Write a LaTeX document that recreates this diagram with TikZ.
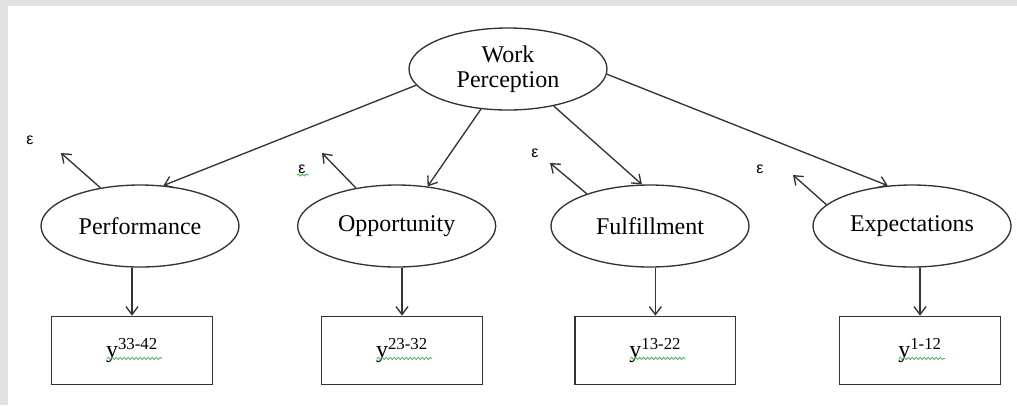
\documentclass[tikz,border=0pt]{standalone}
\usepackage{fontspec}
\setmainfont{Liberation Serif}
\newfontfamily\epsfont{Liberation Sans}
\usetikzlibrary{positioning,arrows.meta,calc,shapes.geometric,decorations.pathmorphing}
\definecolor{frame}{HTML}{E2E2E2}
\definecolor{ink}{HTML}{333333}
\definecolor{spell}{HTML}{4CAF50}
\tikzset{
  latent/.style={
    ellipse, draw=ink, line width=1pt, minimum width=148.5pt,
    minimum height=61.5pt, inner sep=2pt, align=center,
    font=\fontsize{18}{19}\selectfont},
  indic/.style={
    rectangle, draw=ink, line width=1.1pt, minimum width=120.5pt,
    minimum height=51pt, inner sep=2pt, font=\fontsize{18}{20}\selectfont},
  errlab/.style={font=\epsfont\fontsize{12}{12}\selectfont, inner sep=0pt},
  load/.style={draw=ink, line width=1pt, -{Straight Barb[length=6pt,width=9pt]}},
  squiggle/.style={
    draw=spell, line width=0.6pt, decorate,
    decoration={snake, amplitude=0.8pt, segment length=3pt}},
}

\begin{document}
\begin{tikzpicture}[x=0.75pt,y=-0.75pt]

  % page with grey frame on top and left
  \fill[frame] (0,0) rectangle (1017,405);
  \fill[white] (8,6) rectangle (1017,405);

  \node[latent] (work) at (508,69) {Work\\Perception};
  \node[latent] (perf) at (140,226) {Performance};
  \node[latent, right=43pt of perf] (opp) {Opportunity};
  \node[latent, right=40.5pt of opp] (fulf) {Fulfillment};
  \node[latent, right=47pt of fulf] (expc) {Expectations};

  \node[indic, below=36pt of perf, xshift=-6pt] (y1) {y\textsuperscript{33-42}};
  \node[indic, below=36pt of opp, xshift=4pt] (y2) {y\textsuperscript{23-32}};
  \node[indic, below=36pt of fulf, xshift=4pt] (y3) {y\textsuperscript{13-22}};
  \node[indic, below=36pt of expc, xshift=6pt] (y4) {y\textsuperscript{1-12}};

  \draw[load] (work.190) -- (perf.60);
  \draw[load] (work.236) -- (opp.52);
  \draw[load] (work.321) -- (fulf.101);
  \draw[load] (work.357) -- (expc.121);

  \draw[load] (perf.south -| y1.north) -- (y1.north);
  \draw[load] (opp.south -| y2.north) -- (y2.north);
  \draw[load] (fulf.south -| y3.north) -- (y3.north);
  \draw[load] (expc.south -| y4.north) -- (y4.north);

  % error terms
  \coordinate (e1) at (61,153);
  \coordinate (e2) at (322,153);
  \coordinate (e3) at (550,163);
  \coordinate (e4) at (793,175);
  \node[errlab] (eps1) at (30,140) {ε};
  \node[errlab] (eps2) at (302,169) {ε};
  \node[errlab] (eps3) at (535,153) {ε};
  \node[errlab] (eps4) at (760,169) {ε};
  \draw[load] (perf.136) -- (e1);
  \draw[load] (opp.137) -- (e2);
  \draw[load] (fulf.153) -- (e3);
  \draw[load] (expc.166) -- (e4);

  % spell-check marks
  \draw[squiggle] ($(eps2.center)+(-5,6)$) -- ++(12,0);
  \draw[squiggle] ($(y1.center)+(-25,8)$) -- ++(55,0);
  \draw[squiggle] ($(y2.center)+(-25,8)$) -- ++(55,0);
  \draw[squiggle] ($(y3.center)+(-25,8)$) -- ++(55,0);
  \draw[squiggle] ($(y4.center)+(-21,8)$) -- ++(46,0);

\end{tikzpicture}
\end{document}
